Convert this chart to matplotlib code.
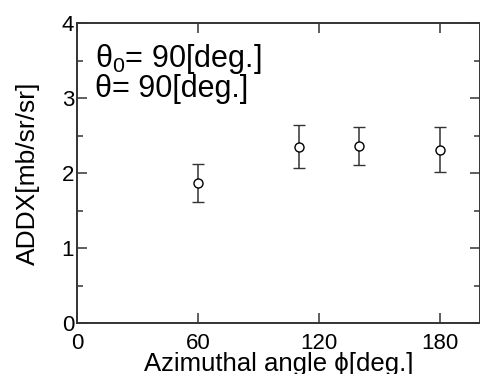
# azimuthal angle dependence of ADDX, with error bars
import matplotlib.pyplot as plt
from matplotlib.ticker import MultipleLocator

plt.rcParams['font.family'] = ['Liberation Sans', 'DejaVu Sans']
plt.rcParams['mathtext.fontset'] = 'custom'
plt.rcParams['mathtext.rm'] = 'Liberation Sans'
plt.rcParams['mathtext.it'] = 'Liberation Sans'

# data
phi = [60, 110, 140, 180]
addx = [1.87, 2.35, 2.36, 2.31]
err = [0.25, 0.285, 0.25, 0.30]

xticks = [0, 60, 120, 180]
yticks = [0, 1, 2, 3, 4]

fig = plt.figure(figsize=(4.81, 3.74), dpi=100)
ax = fig.add_axes([77/481, 1 - 323/374, 403/481, 300/374])

ax.errorbar(phi, addx, yerr=err, fmt='o', color='#333333', mfc='white',
            mec='black', ms=6.5, capsize=4.5, elinewidth=1.1, capthick=1.1,
            mew=1.0)

ax.set_xlim(0, 200)
ax.set_ylim(0, 4)
ax.set_xticks(xticks)
ax.set_yticks(yticks)
ax.yaxis.set_minor_locator(MultipleLocator(0.5))

for s in ax.spines.values():
    s.set_linewidth(1.4)
    s.set_color('#333333')
ax.tick_params(which='both', direction='in', top=True, right=True,
               color='#333333', width=1.1, labelsize=16)
ax.tick_params(axis='x', which='major', length=7, pad=7)
ax.tick_params(axis='y', which='major', length=7, pad=2)
ax.tick_params(which='minor', length=4)

ax.set_xlabel('Azimuthal angle \u03d5[deg.]', fontsize=18.5, labelpad=-1)
ax.set_ylabel('ADDX[mb/sr/sr]', fontsize=19, labelpad=16)

ax.text(0.045, 0.935, '\u03b8$_0$= 90[deg.]\n\u03b8= 90[deg.]', transform=ax.transAxes,
        fontsize=22, va='top', ha='left', linespacing=0.9)

fig.savefig('out.png', dpi=100)
